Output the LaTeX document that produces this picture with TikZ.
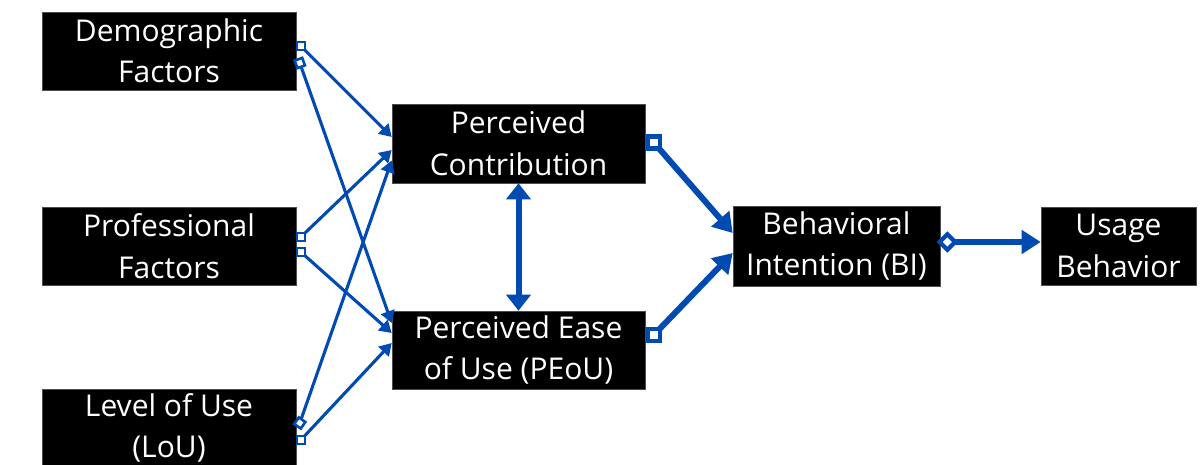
\documentclass[tikz,border=0pt]{standalone}
\usepackage{fontspec}
\setmainfont{Open Sans}
\usetikzlibrary{arrows.meta}
\definecolor{lnk}{RGB}{0,74,178}
\tikzset{
  box/.style={fill=black, draw=black!70, line width=0.6pt, text=white, align=center,
    inner sep=0pt, font=\fontsize{30pt}{41.5pt}\selectfont},
  thin/.style={draw=lnk, line width=3.1pt, -{Triangle[length=12pt,width=14pt]}},
  thick/.style={draw=lnk, line width=6pt, -{Triangle[length=19pt,width=23pt]}},
  dbl/.style={draw=lnk, line width=6pt,
    {Triangle[length=16pt,width=24pt]}-{Triangle[length=16pt,width=24pt]}},
  mk/.style={draw=lnk, fill=white, line width=2.6pt},
  mkb/.style={draw=lnk, fill=white, line width=4.2pt}
}
\begin{document}
\begin{tikzpicture}[x=1pt,y=-1pt]
\useasboundingbox (0,0) rectangle (1203,465);
\clip (0,0) rectangle (1203,465);
\node[box, minimum width=254pt, minimum height=78pt] (dem) at (169,51) {Demographic\\Factors};
\node[box, minimum width=254pt, minimum height=78pt] (prof) at (169,246) {Professional\\Factors};
\node[box, minimum width=254pt, minimum height=78pt] (lou) at (169,428) {Level of Use\\(LoU)};
\node[box, minimum width=253pt, minimum height=79pt] (pc) at (518.5,143.5) {Perceived\\Contribution};
\node[box, minimum width=253pt, minimum height=78pt] (peou) at (518.5,350) {Perceived Ease\\of Use (PEoU)};
\node[box, minimum width=207pt, minimum height=80pt] (bi) at (836.5,246) {Behavioral\\Intention (BI)};
\node[box, minimum width=155pt, minimum height=78pt] (ub) at (1118.5,246) {Usage\\Behavior};

% start points
\coordinate (d1) at ([xshift=4.5pt,yshift=5pt]dem.east);
\coordinate (d2) at ([xshift=3.5pt,yshift=-12pt]dem.east);
\coordinate (p1) at ([xshift=4.5pt,yshift=9pt]prof.east);
\coordinate (p2) at ([xshift=4.5pt,yshift=-6pt]prof.east);
\coordinate (l1) at ([xshift=3.5pt,yshift=5pt]lou.east);
\coordinate (l2) at ([xshift=4.5pt,yshift=-12pt]lou.east);
\coordinate (c1) at ([xshift=8.5pt,yshift=1pt]pc.east);
\coordinate (e1) at ([xshift=8.5pt,yshift=15pt]peou.east);
\coordinate (b1) at ([xshift=7pt,yshift=4pt]bi.east);

% thin connectors
\draw[thin] (d1) -- ([yshift=6.5pt]pc.west);
\draw[thin] (d2) -- ([yshift=27pt]peou.west);
\draw[thin] (p1) -- ([yshift=-6.5pt]pc.west);
\draw[thin] (p2) -- ([yshift=17pt]peou.west);
\draw[thin] (l1) -- ([yshift=-17pt]pc.west);
\draw[thin] (l2) -- ([yshift=7pt]peou.west);

% thick connectors
\draw[thick] (c1) -- ([yshift=13pt]bi.west);
\draw[thick] (e1) -- ([yshift=-7pt]bi.west);
\draw[thick] (b1) -- ([yshift=4pt]ub.west);
\draw[dbl] (pc.south) -- (peou.north);

% start markers
\draw[mk] ([shift={(-4,-4)}]d1) rectangle ([shift={(4,4)}]d1);
\draw[mk, rotate around={20:(d2)}] ([shift={(-4,-4)}]d2) rectangle ([shift={(4,4)}]d2);
\draw[mk] ([shift={(-4,-4)}]p1) rectangle ([shift={(4,4)}]p1);
\draw[mk] ([shift={(-4,-4)}]p2) rectangle ([shift={(4,4)}]p2);
\draw[mk, rotate around={-35:(l1)}] ([shift={(-4,-4)}]l1) rectangle ([shift={(4,4)}]l1);
\draw[mk] ([shift={(-4,-4)}]l2) rectangle ([shift={(4,4)}]l2);
\draw[mkb] ([shift={(-6,-6)}]c1) rectangle ([shift={(6,6)}]c1);
\draw[mkb] ([shift={(-6,-6)}]e1) rectangle ([shift={(6,6)}]e1);
\draw[mkb, rotate around={45:(b1)}] ([shift={(-5.5,-5.5)}]b1) rectangle ([shift={(5.5,5.5)}]b1);
\end{tikzpicture}
\end{document}
